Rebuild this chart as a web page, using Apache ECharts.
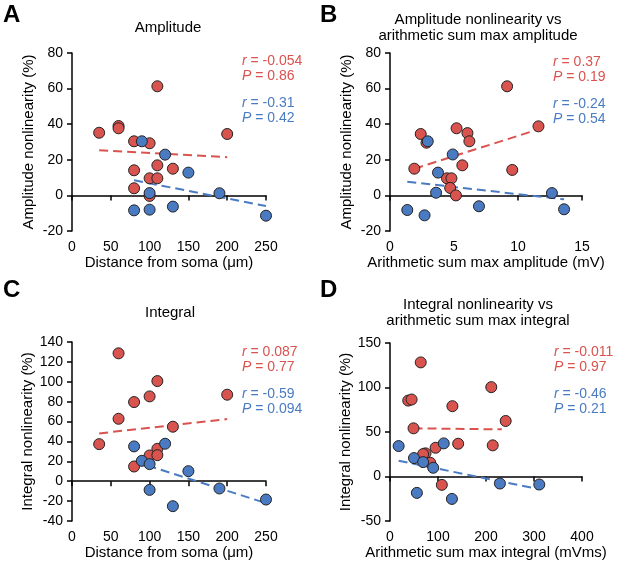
<!DOCTYPE html>
<html>
<head>
<meta charset="utf-8">
<script src="https://cdn.jsdelivr.net/npm/echarts@6/dist/echarts.min.js"></script>
<style>
html, body { margin: 0; padding: 0; background: #fff; }
#main { width: 617px; height: 568px; }
</style>
</head>
<body>
<div id="main"></div>
<script>
// A: distance from soma vs amplitude nonlinearity
var ampDistRed = [[35,35.2],[60,39],[60,37.7],[80,30.4],[100,29.3],[110,61.3],[200,34.5],[80,14.1],[110,16.9],[130,15],[100,9.6],[110,9.6],[80,4],[100,-0.3]];
var ampDistBlue = [[90,30.4],[120,22.9],[150,12.8],[100,1.3],[190,1.2],[80,-8.4],[100,-8],[130,-6.3],[250,-11.4]];
var ampDistRedFit = [[35,25.3],[200,21.5]];
var ampDistBlueFit = [[80,8.5],[250,-6]];

// B: arithmetic sum max amplitude vs amplitude nonlinearity
var ampSumRed = [[1.9,15],[2.4,34.5],[2.85,29.6],[5.2,37.7],[6.05,35],[6.2,30.4],[9.15,61.3],[11.6,38.8],[5.65,16.9],[9.55,14.3],[4.45,9.6],[4.8,9.6],[4.7,4.2],[5.15,0]];
var ampSumBlue = [[2.95,30.4],[4.9,23],[3.75,12.8],[3.6,1.5],[12.65,1.3],[1.35,-8.2],[2.7,-11.2],[6.95,-6.1],[13.6,-7.8]];
var ampSumRedFit = [[1.9,15],[11.6,37.1]];
var ampSumBlueFit = [[1.35,7.7],[13.6,-2.2]];

// C: distance from soma vs integral nonlinearity
var intDistRed = [[35,37.3],[60,128.6],[60,62.8],[80,79.6],[100,85.3],[110,100.7],[200,87],[130,54.8],[110,32.6],[100,25.9],[110,26.2],[80,14.8]];
var intDistBlue = [[80,35],[120,37.7],[90,20.5],[100,17.2],[150,10.1],[100,-8.7],[190,-7.3],[130,-25.1],[250,-18.4]];
var intDistRedFit = [[35,48.1],[200,62.5]];
var intDistBlueFit = [[80,20],[250,-22]];

// D: arithmetic sum max integral vs integral nonlinearity
var intSumRed = [[64,128.2],[38,85.3],[45,86.5],[130,79],[211,100.4],[241,62.4],[49,54.1],[142,36.8],[214,35],[95,32.3],[74,26],[69,25.2],[84,15.4],[108,-9.4]];
var intSumBlue = [[18,34.2],[112,37.2],[50,20.7],[69,16.2],[90,9.8],[56,-18.4],[129,-25.2],[229,-7.9],[311,-9]];
var intSumRedFit = [[49,54.1],[233,53]];
var intSumBlueFit = [[18,17.7],[311,-14.3]];

var redR = ['-0.054', '0.37', '0.087', '-0.011'];
var redP = ['0.86', '0.19', '0.77', '0.97'];
var blueR = ['-0.31', '-0.24', '-0.59', '-0.46'];
var blueP = ['0.42', '0.54', '0.094', '0.21'];

var panelLetters = ['A', 'B', 'C', 'D'];
var panelTitles = ['Amplitude', 'Amplitude nonlinearity vs\narithmetic sum max amplitude', 'Integral', 'Integral nonlinearity vs\narithmetic sum max integral'];
var xNames = ['Distance from soma (μm)', 'Arithmetic sum max amplitude (mV)', 'Distance from soma (μm)', 'Arithmetic sum max integral (mVms)'];
var yNames = ['Amplitude nonlinearity (%)', 'Amplitude nonlinearity (%)', 'Integral nonlinearity (%)', 'Integral nonlinearity (%)'];
var xRanges = [[0, 250, 50], [0, 15, 5], [0, 250, 50], [0, 400, 100]];
var yRanges = [[-20, 80, 20], [-20, 80, 20], [-40, 140, 20], [-50, 150, 50]];

var reds = [ampDistRed, ampSumRed, intDistRed, intSumRed];
var blues = [ampDistBlue, ampSumBlue, intDistBlue, intSumBlue];
var redFits = [ampDistRedFit, ampSumRedFit, intDistRedFit, intSumRedFit];
var blueFits = [ampDistBlueFit, ampSumBlueFit, intDistBlueFit, intSumBlueFit];

var RED = '#d9534f';
var BLUE = '#4a7bc2';
var FONT = 'Liberation Sans, Arial, sans-serif';

// layout
var grids = [
    {left: 72, top: 53, width: 194, height: 178},
    {left: 390, top: 53, width: 192, height: 178},
    {left: 72, top: 342, width: 194, height: 179},
    {left: 390, top: 343, width: 192, height: 178}
];
var letterPos = [[3, 15], [320, 15], [3, 290], [320, 290]];
var titlePos = [[168, 28], [478, 28], [170, 313], [478, 313]];
var statPos = [[242, 61], [553, 62], [242, 352], [554, 352]];

var myChart = echarts.init(document.getElementById('main'));

var xAxes = [], yAxes = [], series = [], graphics = [];
for (var i = 0; i < 4; i++) {
    xAxes.push({
        gridIndex: i, type: 'value',
        min: xRanges[i][0], max: xRanges[i][1], interval: xRanges[i][2],
        name: xNames[i], nameLocation: 'middle', nameGap: 23,
        nameTextStyle: {color: '#000', fontSize: 15, fontFamily: FONT},
        axisLine: {lineStyle: {color: '#000', width: 1.5}},
        axisTick: {length: 5, lineStyle: {color: '#000', width: 1.5}},
        axisLabel: {color: '#000', fontSize: 14, fontFamily: FONT, margin: 9},
        splitLine: {show: false}
    });
    yAxes.push({
        gridIndex: i, type: 'value',
        min: yRanges[i][0], max: yRanges[i][1], interval: yRanges[i][2],
        name: yNames[i], nameLocation: 'middle', nameGap: 36,
        nameTextStyle: {color: '#000', fontSize: 15, fontFamily: FONT},
        axisLine: {lineStyle: {color: '#000', width: 1.5}},
        axisTick: {length: 5, lineStyle: {color: '#000', width: 1.5}},
        axisLabel: {color: '#000', fontSize: 14, fontFamily: FONT, margin: 9},
        splitLine: {show: false}
    });
    series.push({
        type: 'line', xAxisIndex: i, yAxisIndex: i, data: redFits[i],
        showSymbol: false, silent: true, z: 1,
        lineStyle: {color: RED, width: 2, type: [9, 5]}
    });
    series.push({
        type: 'line', xAxisIndex: i, yAxisIndex: i, data: blueFits[i],
        showSymbol: false, silent: true, z: 1,
        lineStyle: {color: BLUE, width: 2, type: [9, 5]}
    });
    series.push({
        type: 'scatter', xAxisIndex: i, yAxisIndex: i, data: reds[i],
        symbolSize: 11, z: 2,
        itemStyle: {color: RED, borderColor: '#222', borderWidth: 1, opacity: 1}
    });
    series.push({
        type: 'scatter', xAxisIndex: i, yAxisIndex: i, data: blues[i],
        symbolSize: 11, z: 3,
        itemStyle: {color: BLUE, borderColor: '#222', borderWidth: 1, opacity: 1}
    });

    graphics.push({
        type: 'text', left: letterPos[i][0], top: letterPos[i][1] - 12,
        style: {text: panelLetters[i], fill: '#000', font: 'bold 24px ' + FONT}
    });
    graphics.push({
        type: 'text', x: titlePos[i][0], y: titlePos[i][1],
        style: {
            text: panelTitles[i], fill: '#000', font: '15px ' + FONT,
            align: 'center', verticalAlign: 'middle', lineHeight: 16
        }
    });
    var rows = [
        ['r', redR[i], RED, 0], ['P', redP[i], RED, 15],
        ['r', blueR[i], BLUE, 42], ['P', blueP[i], BLUE, 57]
    ];
    for (var k = 0; k < rows.length; k++) {
        graphics.push({
            type: 'text', x: statPos[i][0], y: statPos[i][1] + rows[k][3],
            style: {
                text: '{it|' + rows[k][0] + '} = ' + rows[k][1],
                fill: rows[k][2], font: '14px ' + FONT, verticalAlign: 'middle',
                rich: {it: {fontStyle: 'italic', fill: rows[k][2], fontSize: 14, fontFamily: FONT}}
            }
        });
    }
}

myChart.setOption({
    animation: false,
    grid: grids,
    xAxis: xAxes,
    yAxis: yAxes,
    series: series,
    graphic: graphics
});
</script>
</body>
</html>
